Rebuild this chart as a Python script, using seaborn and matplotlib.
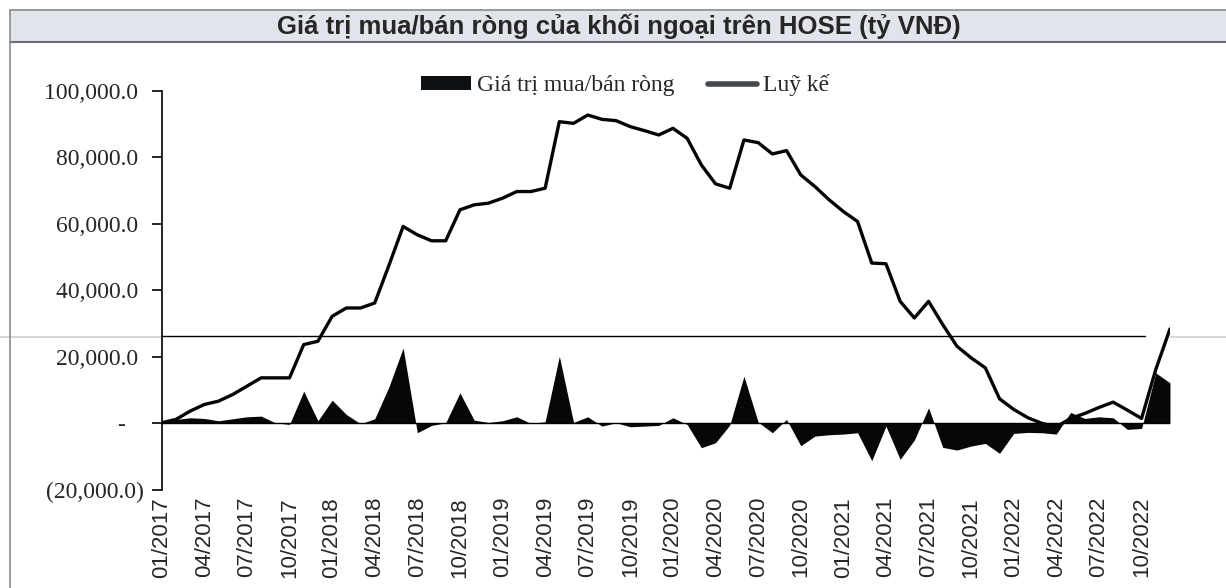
import numpy as np
import pandas as pd
import matplotlib.pyplot as plt
import seaborn as sns
from matplotlib.patches import Rectangle, Patch
from matplotlib.lines import Line2D
from matplotlib.ticker import FuncFormatter

# monthly data, 01/2017 -> 12/2022 (ty VND)
months = pd.date_range('2017-01-01', periods=72, freq='MS')
month_labels = months.strftime('%m/%Y')

net_value = [300, 1200, 1700, 1500, 800, 1400, 2000, 2200, 200, -300,
             9700, 800, 7000, 2700, -100, 1400, 11000, 22700, -2800, -600,
             200, 9200, 1000, 300, 800, 2000, 0, 500, 20200, 300,
             2000, -800, 200, -1000, -800, -600, 1700, -300, -7300, -5800,
             -500, 14200, 400, -2800, 1200, -6700, -3800, -3400, -3200, -2800,
             -11200, -800, -10800, -5000, 4700, -7200, -8000, -6800, -6000, -9000,
             -3000, -2700, -2800, -3200, 3300, 1500, 2000, 1700, -1800, -1500,
             15200, 12200]

cumulative = [200, 1200, 3700, 5700, 6700, 8700, 11200, 13700, 13700, 13700,
              23700, 24700, 32200, 34700, 34700, 36200, 47500, 59200, 56700, 54900,
              54900, 64200, 65700, 66200, 67700, 69700, 69700, 70700, 90700, 90200,
              92700, 91400, 91000, 89200, 88000, 86700, 88700, 85700, 77700, 72000,
              70700, 85200, 84400, 81000, 82000, 74700, 71200, 67200, 63700, 60700,
              48200, 48000, 36700, 31700, 36700, 29700, 23200, 19700, 16700, 7400,
              4200, 1700, 0, -1000, 1500, 3000, 4800, 6400, 4000, 1500,
              16200, 28400]

title = 'Giá trị mua/bán ròng của khối ngoại trên HOSE (tỷ VNĐ)'
series_names = ['Giá trị mua/bán ròng', 'Luỹ kế']
scan_line_level = 26300

df = pd.DataFrame({'idx': np.arange(len(months)), 'net': net_value, 'cum': cumulative})

sns.set_theme(style='white')
plt.rcParams['font.family'] = ['Liberation Serif', 'DejaVu Serif']

fig = plt.figure(figsize=(12.26, 5.88), dpi=100)
ax = fig.add_axes([0.1319, 0.1667, 0.8224, 0.679])

# net buy/sell as a filled area, cumulative as a line
ax.fill_between(df['idx'], df['net'], 0, color='#060808', lw=0)
sns.lineplot(data=df, x='idx', y='cum', ax=ax, color='#050505', lw=2.4)

ax.axhline(0, color='black', lw=1.0, zorder=1)
ax.axhline(scan_line_level, xmin=0, xmax=0.975, color='black', lw=1.0)
fig.add_artist(Line2D([0.0, 1.0], [1 - 336.7 / 588] * 2, color='#cfd0d6', lw=1.2,
                      zorder=0))

ax.set_xlim(0, len(months) - 1)
ax.set_ylim(-20000, 100000)
ax.set_yticks(np.arange(-20000, 100001, 20000))


def acct(v, pos):
    if v == 0:
        return '-   '
    if v < 0:
        return '({:,.1f})'.format(-v)
    return '{:,.1f} '.format(v)


ax.yaxis.set_major_formatter(FuncFormatter(acct))
ax.set_xticks(df['idx'][::3])
ax.set_xticklabels(month_labels[::3], rotation=90, family=['Liberation Sans', 'DejaVu Sans'],
                   fontsize=16)
ax.tick_params(axis='x', length=0, pad=5)
ax.tick_params(axis='y', direction='out', length=7, width=1.2, color='black',
               labelsize=17, pad=6, left=True)
ax.set_xlabel('')
ax.set_ylabel('')
for s in ['top', 'right', 'bottom']:
    ax.spines[s].set_visible(False)
ax.spines['left'].set_color('black')
ax.spines['left'].set_linewidth(1.2)

handles = [Patch(facecolor='#0d1114', edgecolor='none'),
           Line2D([0], [0], color='#44474c', lw=4)]
fig.legend(handles, series_names, loc='center', bbox_to_anchor=(0.51, 0.855),
           ncol=2, frameon=False, fontsize=17, handlelength=2.1, handleheight=0.55,
           handletextpad=0.25, columnspacing=1.4)

# title band
fig.add_artist(Rectangle((10 / 1226, 1 - 41.5 / 588), 1.0, 32 / 588,
                         transform=fig.transFigure, facecolor='#e1e4ea',
                         edgecolor='none', zorder=0))
fig.add_artist(Line2D([10 / 1226, 1.0], [1 - 9.5 / 588] * 2, color='#8a8c90', lw=1.2))
fig.add_artist(Line2D([10 / 1226, 1.0], [1 - 41.5 / 588] * 2, color='#6b6d72', lw=1.5))
fig.add_artist(Line2D([10 / 1226] * 2, [0.0, 1 - 9.5 / 588], color='#8a8c90', lw=1.2))
fig.text(0.505, 1 - 26 / 588, title, ha='center', va='center', fontsize=18.5,
         fontweight='bold', family=['Liberation Sans', 'DejaVu Sans'])

fig.savefig('out.png', dpi=100)
